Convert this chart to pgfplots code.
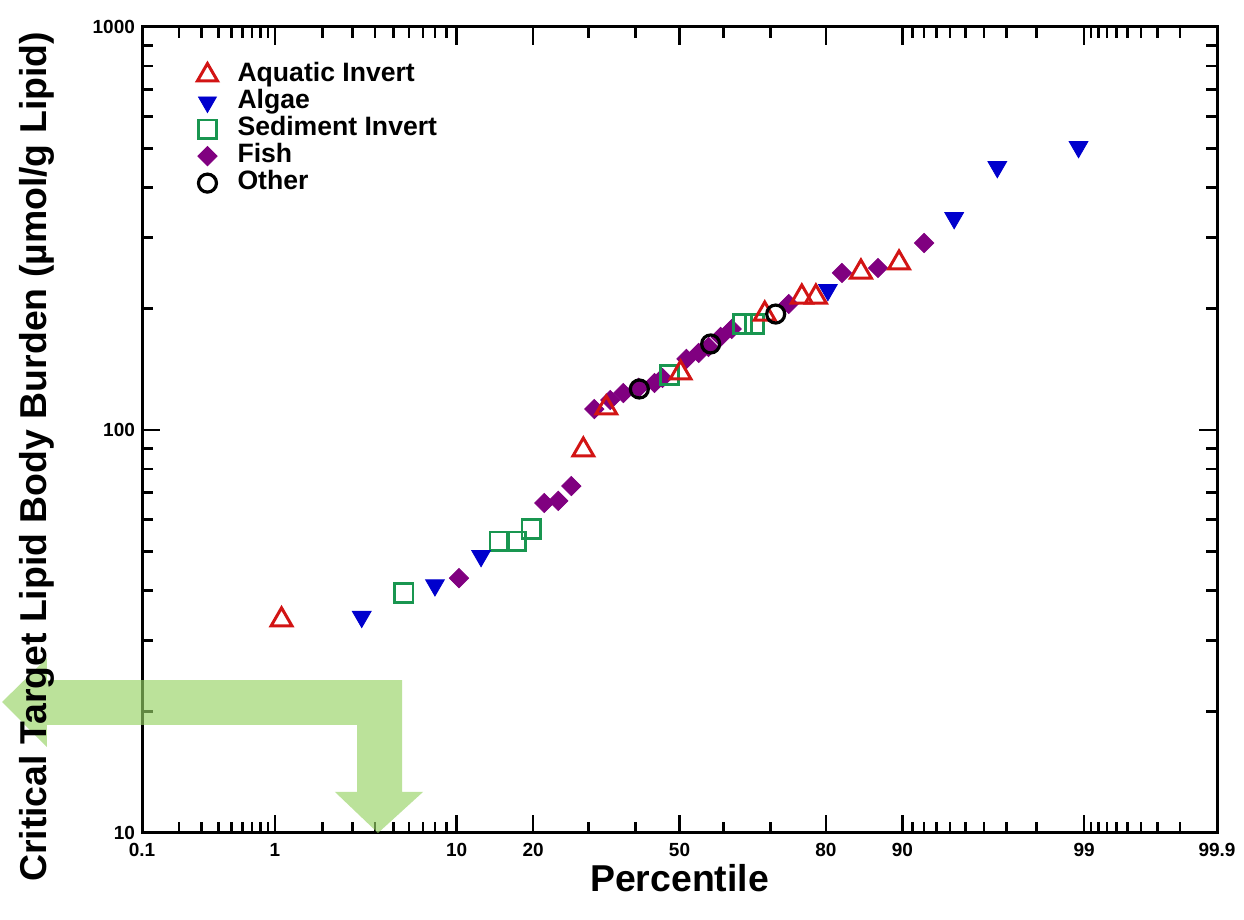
\documentclass[border=0pt]{standalone}
\usepackage{pgfplots}
\pgfplotsset{compat=1.18}
\usepackage{pgfplotstable}
\usepackage{fontspec}
\setmainfont{Liberation Sans}
\definecolor{aqred}{RGB}{210,20,20}
\definecolor{algblue}{RGB}{0,0,205}
\definecolor{sedgreen}{RGB}{25,150,80}
\definecolor{fishpurple}{RGB}{128,0,128}
\definecolor{arrowgreen}{RGB}{150,210,100}

% x = normal quantile (z) of the percentile, y = body burden
\pgfplotstableread{
x y
-2.288 33.8
-0.553 89.2
-0.421 113.4
0.006 138.5
0.490 194.0
0.703 213.8
0.784 213.8
1.043 246.6
1.262 259.7
}\aquatic
\pgfplotstableread{
x y
-1.827 34.4
-1.406 41.2
-1.141 48.7
0.853 222.6
1.579 335.7
1.827 449.4
2.294 503.9
}\algae
\pgfplotstableread{
x y
-1.585 39.4
-1.037 53.0
-0.939 53.0
-0.853 56.8
-0.058 136.9
0.363 183.2
0.432 183.2
}\sediment
\pgfplotstableread{
x y
-1.268 42.9
-0.778 65.9
-0.697 66.7
-0.622 72.6
-0.490 112.7
-0.398 118.7
-0.323 123.5
-0.236 127.2
-0.144 130.8
-0.098 134.6
0.040 150.1
0.110 155.3
0.167 160.7
0.236 170.2
0.300 178.1
0.628 205.4
0.934 245.3
1.141 252.4
1.406 291.1
}\fish
\pgfplotstableread{
x y
-0.231 126.4
0.179 163.5
0.553 194.0
}\other

\begin{document}
\begin{tikzpicture}
\begin{axis}[
  scale only axis,
  width=537.5pt, height=403pt,
  xmin=-3.0902, xmax=3.0902,
  ymode=log, ymin=10, ymax=1000,
  axis line style={line width=1.5pt},
  every tick/.style={black, line width=1.3pt},
  tick align=inside,
  major tick length=9pt,
  minor tick length=5.5pt,
  xtick={-3.0902,-2.3263,-1.2816,-0.8416,0,0.8416,1.2816,2.3263,3.0902},
  xticklabels={0.1,1,10,20,50,80,90,99,99.9},
  minor xtick={-2.8782,-2.7478,-2.6521,-2.5758,-2.5121,-2.4573,-2.4089,-2.3656,
    -2.0537,-1.8808,-1.7507,-1.6449,-1.5548,-1.4758,-1.4051,-1.3408,
    -0.5244,-0.2533,0.2533,0.5244,
    1.3408,1.4051,1.4758,1.5548,1.6449,1.7507,1.8808,2.0537,
    2.3656,2.4089,2.4573,2.5121,2.5758,2.6521,2.7478,2.8782},
  ytick={10,100,1000},
  yticklabels={10,100,1000},
  tick label style={font=\bfseries\fontsize{9.5}{10}\selectfont},
  xticklabel style={yshift=-1.5pt},
  xlabel={Percentile},
  ylabel={Critical Target Lipid Body Burden (µmol/g Lipid)},
  label style={font=\bfseries\fontsize{18.7}{20}\selectfont},
  xlabel style={at={(axis description cs:0.5,-0.056)}, anchor=center},
  ylabel style={at={(axis description cs:-0.0977,0.4665)}, anchor=center},
  legend style={draw=none, fill=none, at={(axis description cs:0.0456,0.9625)}, anchor=north west,
    font=\bfseries\fontsize{13.3}{13.5}\selectfont, row sep=0pt, column sep=10pt,
    nodes={inner sep=0pt, text height=10pt, text depth=3.5pt}},
  legend cell align=left,
  clip=false,
]
\addlegendimage{only marks, mark=triangle, mark size=5.8pt, mark options={draw=aqred, line width=1.5pt}}
\addlegendentry{Aquatic Invert}
\addlegendimage{only marks, mark=triangle*, mark size=5.2pt, mark options={rotate=180, draw=algblue, fill=algblue}}
\addlegendentry{Algae}
\addlegendimage{only marks, mark=square, mark size=4.6pt, mark options={draw=sedgreen, line width=1.4pt}}
\addlegendentry{Sediment Invert}
\addlegendimage{only marks, mark=square*, mark size=3.4pt, mark options={rotate=45, draw=fishpurple, fill=fishpurple}}
\addlegendentry{Fish}
\addlegendimage{only marks, mark=o, mark size=4.5pt, mark options={draw=black, line width=1.6pt}}
\addlegendentry{Other}

\addplot[forget plot, only marks, mark=square*, mark size=3.4pt, mark options={rotate=45, draw=fishpurple, fill=fishpurple}] table[x=x,y=y] {\fish};
\addplot[forget plot, only marks, mark=square, mark size=4.6pt, mark options={draw=sedgreen, line width=1.4pt}] table[x=x,y=y] {\sediment};
\addplot[forget plot, only marks, mark=triangle*, mark size=5.4pt, mark options={rotate=180, draw=algblue, fill=algblue}] table[x=x,y=y] {\algae};
\addplot[forget plot, only marks, mark=triangle, mark size=6pt, mark options={draw=aqred, line width=1.5pt}] table[x=x,y=y] {\aquatic};
\addplot[forget plot, only marks, mark=o, mark size=4.5pt, mark options={draw=black, line width=1.6pt}] table[x=x,y=y] {\other};

% green annotation arrow
\fill[arrowgreen, fill opacity=0.65]
  (rel axis cs:-0.1302,0.1625) -- (rel axis cs:-0.0884,0.2171) -- (rel axis cs:-0.0884,0.1898)
  -- (rel axis cs:0.2419,0.1898) -- (rel axis cs:0.2419,0.0509) -- (rel axis cs:0.2614,0.0509)
  -- (rel axis cs:0.2195,0) -- (rel axis cs:0.1795,0.0509) -- (rel axis cs:0.2,0.0509)
  -- (rel axis cs:0.2,0.1340) -- (rel axis cs:-0.0884,0.1340) -- (rel axis cs:-0.0884,0.1067) -- cycle;

\coordinate (bbbl) at (rel axis cs:-0.1321,-0.1079);
\coordinate (bbtr) at (rel axis cs:1.0251,1.0335);
\end{axis}
\pgfresetboundingbox
\useasboundingbox (bbbl) rectangle (bbtr);
\end{tikzpicture}
\end{document}
